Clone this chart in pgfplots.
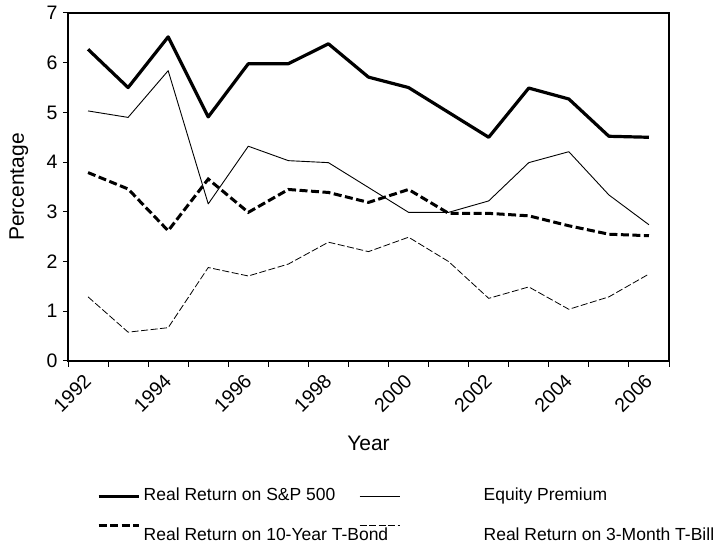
\documentclass[border=0pt]{standalone}
\usepackage{fontspec}
\setmainfont{Liberation Sans}
\usepackage{pgfplots}
\pgfplotsset{compat=1.18}
\usepackage{pgfplotstable}

\pgfplotstableread{
year sp   ep   tb   tbill
1992 6.27 5.03 3.79 1.29
1993 5.50 4.90 3.46 0.58
1994 6.52 5.84 2.62 0.67
1995 4.91 3.16 3.66 1.88
1996 5.98 4.32 2.99 1.71
1997 5.98 4.03 3.45 1.95
1998 6.38 3.99 3.39 2.39
1999 5.71 3.49 3.19 2.20
2000 5.50 2.99 3.45 2.49
2001 5.00 2.99 2.97 2.00
2002 4.50 3.22 2.97 1.26
2003 5.49 3.99 2.92 1.49
2004 5.27 4.21 2.72 1.04
2005 4.52 3.34 2.55 1.29
2006 4.50 2.74 2.52 1.75
}\data

\begin{document}
\begin{tikzpicture}
\begin{axis}[
  scale only axis, width=601bp, height=348bp,
  xmin=1991.5, xmax=2006.5, ymin=0, ymax=7,
  xtick={1992,1994,...,2006},
  xticklabels={1992,1994,1996,1998,2000,2002,2004,2006},
  minor xtick={1991.5,1992.5,...,2006.5},
  ytick={0,1,...,7},
  yticklabels={0,1,2,3,4,5,6,7},
  tick align=outside,
  tick pos=left,
  major tick length=5bp,
  minor tick length=6bp,
  major x tick style={draw=none},
  tick style={line width=1bp, black},
  axis line style={line width=1.3bp},
  ticklabel style={font=\fontsize{19.5bp}{23bp}\selectfont},
  yticklabel style={xshift=-2bp},
  xticklabel style={rotate=45, anchor=east, yshift=-8bp, xshift=-5bp},
  xlabel={Year}, ylabel={Percentage},
  label style={font=\fontsize{21bp}{25bp}\selectfont},
  xlabel style={at={(axis description cs:0.5,-0.236)}, anchor=center},
  ylabel style={at={(axis description cs:-0.082,0.5)}, anchor=center},
  legend columns=2,
  legend cell align=left,
  legend image code/.code={\draw[#1] (0bp,0bp) -- (40bp,0bp);},
  legend style={draw=none, fill=none, at={(axis description cs:0.048,-0.355)}, anchor=north west,
    inner sep=0pt, column sep=0pt, row sep=6bp,
    font=\fontsize{17.5bp}{21bp}\selectfont,
    nodes={inner sep=3.5bp, text height=12.5bp, text depth=3.5bp}},
]
\addplot[black, line width=3.2bp, line join=round] table[x=year, y=sp] {\data};
\addlegendentry{\makebox[212bp][l]{Real Return on S\&P 500}}
\addplot[black, line width=0.9bp, line join=round] table[x=year, y=ep] {\data};
\addlegendentry{\hspace{80bp}Equity Premium}
\addplot[black, line width=3bp, dash pattern=on 8bp off 3.5bp] table[x=year, y=tb] {\data};
\addlegendentry{\makebox[212bp][l]{\raisebox{-11bp}[12.5bp][3.5bp]{Real Return on 10-Year T-Bond}}}
\addplot[black, line width=0.8bp, dash pattern=on 7bp off 2.5bp] table[x=year, y=tbill] {\data};
\addlegendentry{\hspace{80bp}\raisebox{-11bp}[12.5bp][3.5bp]{Real Return on 3-Month T-Bill}}
\end{axis}
\pgfresetboundingbox
\path[use as bounding box] ([shift={(-68bp,-184bp)}]current axis.south west) rectangle ([shift={(47bp,13bp)}]current axis.north east);
\end{tikzpicture}
\end{document}
